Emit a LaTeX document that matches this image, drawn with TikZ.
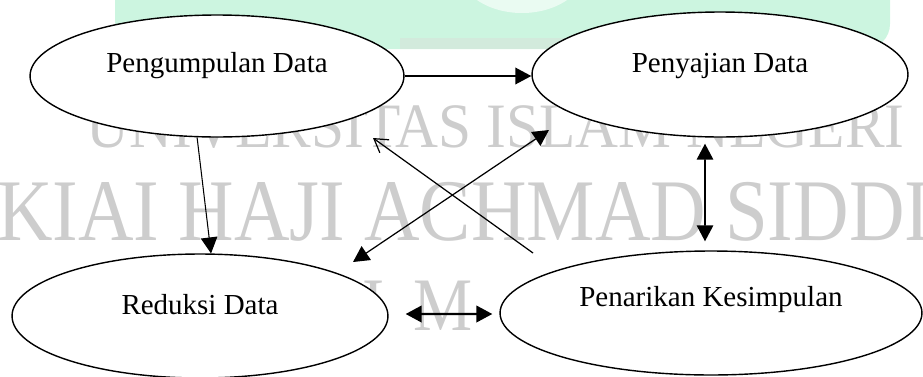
\documentclass[tikz,border=0pt]{standalone}
\usepackage{fontspec}
\setmainfont{Liberation Serif}
\usetikzlibrary{arrows.meta,shapes.geometric}
\definecolor{wmgray}{RGB}{205,205,205}
\definecolor{wmgreen}{RGB}{204,245,224}
\definecolor{wmgreendark}{RGB}{210,234,220}

\tikzset{
	stage/.style={draw, ellipse, fill=white, line width=0.8pt, inner sep=0pt,
		font=\fontsize{16.5}{18}\selectfont, text height=0pt},
	wmark/.style={text=wmgray, inner sep=0pt, anchor=base west},
	fwd/.style={-{Triangle[length=3.2mm,width=3.3mm]}},
	both/.style={{Triangle[length=3.2mm,width=3.3mm]}-{Triangle[length=3.2mm,width=3.3mm]}},
	open/.style={-{Straight Barb[length=2.6mm,width=3.2mm]}}
}

\begin{document}
\begin{tikzpicture}[x=0.02cm, y=-0.02cm]
	\useasboundingbox (0,0) rectangle (923,376);
	\clip (0,0) rectangle (923,376);
	% background of the scanned page
	\fill[wmgreen, rounded corners=0.5cm] (115,-40) rectangle (890,49);
	\fill[wmgreendark] (400,38) rectangle (870,49);
	\fill[white, opacity=0.6] (522,-35) ellipse (66 and 48);
	\node (wm1) [wmark, font=\fontsize{36}{36}\selectfont, xscale=0.94, anchor=base east] at (905,147) {UNIVERSITAS ISLAM NEGERI};
	\node (wm2) [wmark, font=\fontsize{50}{50}\selectfont, xscale=0.875] at (-3,240) {KIAI HAJI ACHMAD SIDDIQ};
	\node (wm3a) [wmark, font=\fontsize{43}{43}\selectfont, xscale=0.88] at (362,330) {I};
	\node (wm3b) [wmark, font=\fontsize{43}{43}\selectfont, xscale=0.88] at (413,330) {M};
	% stages
	\node (e1) [stage, minimum width=7.48cm, minimum height=2.44cm, text depth=0.15cm] at (217,76) {Pengumpulan Data};
	\node (e2) [stage, minimum width=7.52cm, minimum height=2.5cm, text depth=0.09cm] at (720,74.5) {Penyajian Data};
	\node (e3) [stage, minimum width=7.52cm, minimum height=2.48cm, text depth=0.05cm] at (200,316) {Reduksi Data};
	\node (e4) [stage, minimum width=8.44cm, minimum height=2.48cm, text depth=0.25cm] at (711,313) {Penarikan Kesimpulan};
	\coordinate (x1) at (533,253);
	\coordinate (x2) at (373,138);
	\coordinate (y1) at (353,262);
	\coordinate (y2) at (549,130);
	\draw[fwd, line width=1.1pt] (e1.east) -- (e1.east -| e2.west);
	\draw[fwd, line width=0.6pt] (e1.252) -- (e3.80);
	\draw[open, line width=0.7pt] (x1) -- (x2);
	\draw[both, line width=0.7pt] (y1) -- (y2);
	\draw[both, line width=0.9pt] ([xshift=-0.3cm,yshift=-0.12cm]e2.south) -- ([xshift=-0.12cm,yshift=0.18cm]e4.north);
	\draw[both, line width=1.4pt] ([xshift=0.34cm,yshift=0.04cm]e3.east) -- ([xshift=-0.14cm,yshift=-0.02cm]e4.west);
\end{tikzpicture}
\end{document}
